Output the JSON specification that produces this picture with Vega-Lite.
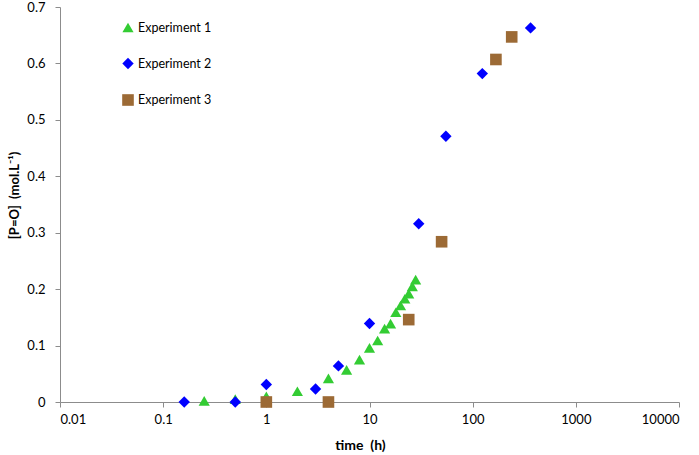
{
  "$schema": "https://vega.github.io/schema/vega-lite/v6.json",
  "width": 619,
  "height": 395,
  "autosize": "none",
  "padding": {"left": 60, "top": 7, "right": 20, "bottom": 53},
  "background": "white",
  "config": {
    "view": {"stroke": null},
    "font": "Lato",
    "axis": {
      "grid": false,
      "domainColor": "#8c8c8c",
      "tickColor": "#8c8c8c",
      "tickSize": 5,
      "labelFont": "Lato",
      "labelFontSize": 13,
      "labelColor": "#000000",
      "titleFont": "Lato",
      "titleFontWeight": "bold",
      "titleColor": "#000000"
    }
  },
  "data": {
    "values": [
      {"exp": "Experiment 1", "time": 0.25, "PO": 0.002},
      {"exp": "Experiment 1", "time": 0.5, "PO": 0.005},
      {"exp": "Experiment 1", "time": 1, "PO": 0.01},
      {"exp": "Experiment 1", "time": 2, "PO": 0.019},
      {"exp": "Experiment 1", "time": 4, "PO": 0.042},
      {"exp": "Experiment 1", "time": 6, "PO": 0.057},
      {"exp": "Experiment 1", "time": 8, "PO": 0.075},
      {"exp": "Experiment 1", "time": 10, "PO": 0.096},
      {"exp": "Experiment 1", "time": 12, "PO": 0.109},
      {"exp": "Experiment 1", "time": 14, "PO": 0.13},
      {"exp": "Experiment 1", "time": 16, "PO": 0.139},
      {"exp": "Experiment 1", "time": 18, "PO": 0.159},
      {"exp": "Experiment 1", "time": 20, "PO": 0.171},
      {"exp": "Experiment 1", "time": 22, "PO": 0.183},
      {"exp": "Experiment 1", "time": 24, "PO": 0.192},
      {"exp": "Experiment 1", "time": 26, "PO": 0.205},
      {"exp": "Experiment 1", "time": 28, "PO": 0.217},
      {"exp": "Experiment 2", "time": 0.16, "PO": 0},
      {"exp": "Experiment 2", "time": 0.5, "PO": 0},
      {"exp": "Experiment 2", "time": 1, "PO": 0.031},
      {"exp": "Experiment 2", "time": 3, "PO": 0.023},
      {"exp": "Experiment 2", "time": 5, "PO": 0.064},
      {"exp": "Experiment 2", "time": 10, "PO": 0.139},
      {"exp": "Experiment 2", "time": 30, "PO": 0.316},
      {"exp": "Experiment 2", "time": 55, "PO": 0.471},
      {"exp": "Experiment 2", "time": 124, "PO": 0.582},
      {"exp": "Experiment 2", "time": 364, "PO": 0.663},
      {"exp": "Experiment 3", "time": 1, "PO": 0},
      {"exp": "Experiment 3", "time": 4, "PO": 0},
      {"exp": "Experiment 3", "time": 24, "PO": 0.146},
      {"exp": "Experiment 3", "time": 50, "PO": 0.284},
      {"exp": "Experiment 3", "time": 168, "PO": 0.607},
      {"exp": "Experiment 3", "time": 239, "PO": 0.647}
    ]
  },
  "mark": {"type": "point", "filled": true, "opacity": 1},
  "encoding": {
    "x": {
      "field": "time",
      "type": "quantitative",
      "scale": {"type": "log", "domain": [0.01, 10000], "nice": false},
      "axis": {
        "title": "time\u00a0\u00a0(h)",
        "titleFontSize": 14,
        "titleX": 300,
        "values": [0.01, 0.1, 1, 10, 100, 1000, 10000],
        "format": "~g",
        "labelPadding": 6,
        "titlePadding": 12
      }
    },
    "y": {
      "field": "PO",
      "type": "quantitative",
      "scale": {"domain": [0, 0.7], "nice": false},
      "axis": {
        "title": "[P=O]\u00a0\u00a0(mol.L⁻¹)",
        "titleFontSize": 13,
        "titleY": 188,
        "values": [0, 0.1, 0.2, 0.3, 0.4, 0.5, 0.6, 0.7],
        "format": "~g",
        "labelPadding": 10,
        "titlePadding": 5
      }
    },
    "size": {
      "field": "exp",
      "type": "ordinal",
      "scale": {
        "domain": ["Experiment 1", "Experiment 2", "Experiment 3"],
        "range": [125, 135, 95]
      },
      "legend": null
    },
    "color": {
      "field": "exp",
      "type": "nominal",
      "scale": {
        "domain": ["Experiment 1", "Experiment 2", "Experiment 3"],
        "range": ["#33cc33", "#0000ff", "#9c6a35"]
      },
      "legend": {
        "title": null,
        "orient": "none",
        "legendX": 61,
        "legendY": 14,
        "rowPadding": 23,
        "labelFont": "Lato",
        "labelFontSize": 12.5,
        "labelColor": "#000000",
        "symbolSize": 105,
        "labelOffset": 3
      }
    },
    "shape": {
      "field": "exp",
      "type": "nominal",
      "scale": {
        "domain": ["Experiment 1", "Experiment 2", "Experiment 3"],
        "range": ["triangle-up", "diamond", "square"]
      }
    }
  }
}
